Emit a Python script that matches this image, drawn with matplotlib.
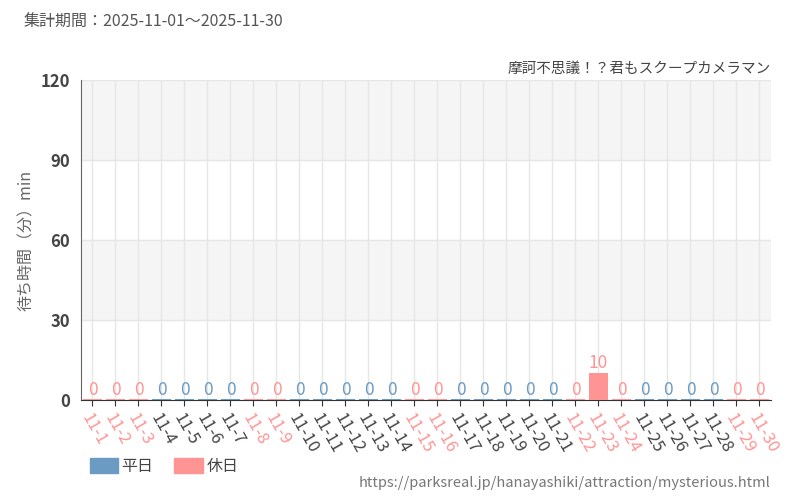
import matplotlib
matplotlib.use("Agg")
import matplotlib.pyplot as plt

plt.rcParams['font.family'] = ['Noto Sans CJK JP', 'DejaVu Sans']

days = [f"11-{d}" for d in range(1, 31)]
holidays = [1, 2, 3, 8, 9, 15, 16, 22, 23, 24, 29, 30]
values = [0]*30
values[22] = 10
yticks = [0, 30, 60, 90, 120]

blue = '#6b9bc3'
pink = '#ff9494'
fig = plt.figure(figsize=(8, 5), dpi=100)
ax = fig.add_axes([0.1012, 0.2, 0.8625, 0.64])
ax.axhspan(30, 60, color='#f5f5f5', zorder=0)
ax.axhspan(90, 120, color='#f5f5f5', zorder=0)
x = list(range(30))
is_h = [(i+1) in holidays for i in x]
cols = [pink if h else blue for h in is_h]
ax.bar(x, values, width=0.8, color=cols, zorder=3)
ax.bar(x, [0.4]*30, width=0.8, color=cols, zorder=3)
for i, v in enumerate(values):
    ax.text(i, v + 0.5, str(v), ha='center', va='bottom', color=cols[i], fontsize=12.5, zorder=4)
ax.set_xlim(-0.5, 29.5)
ax.set_ylim(0, 120)
ax.set_yticks(yticks)
ax.set_yticklabels([str(t) for t in yticks], fontsize=12, color='#444444', fontweight='bold')
ax.set_xticks(x)
ax.set_xticklabels(days, rotation=-60, ha='left', va='top', rotation_mode='anchor', fontsize=12)
for lbl, h in zip(ax.get_xticklabels(), is_h):
    lbl.set_color(pink if h else '#444444')
ax.grid(True, axis='both', color='#e6e6e6', linewidth=1, zorder=1)
for s in ['top', 'right']:
    ax.spines[s].set_visible(False)
ax.spines['left'].set_color('#666666')
ax.spines['bottom'].set_color('#333333')
ax.tick_params(axis='y', length=0, pad=8)
ax.tick_params(axis='x', length=4, color='#333333')
ax.set_ylabel('待ち時間（分）min', color='#666666', fontsize=11.5)
fig.text(0.03, 0.955, '集計期間：2025-11-01～2025-11-30', fontsize=11.5, color='#555555', va='center')
fig.text(0.963, 0.863, '摩訶不思議！？君もスクープカメラマン', fontsize=10.5, color='#444444', ha='right', va='center')
fig.text(0.963, 0.035, 'https://parksreal.jp/hanayashiki/attraction/mysterious.html', fontsize=10.5, color='#777777', ha='right', va='center')
fig.patches.append(plt.Rectangle((0.112, 0.055), 0.036, 0.03, color=blue, transform=fig.transFigure))
fig.text(0.152, 0.068, '平日', fontsize=11.5, color='#444444', va='center')
fig.patches.append(plt.Rectangle((0.218, 0.055), 0.036, 0.03, color=pink, transform=fig.transFigure))
fig.text(0.258, 0.068, '休日', fontsize=11.5, color='#444444', va='center')
fig.savefig('out.png')
